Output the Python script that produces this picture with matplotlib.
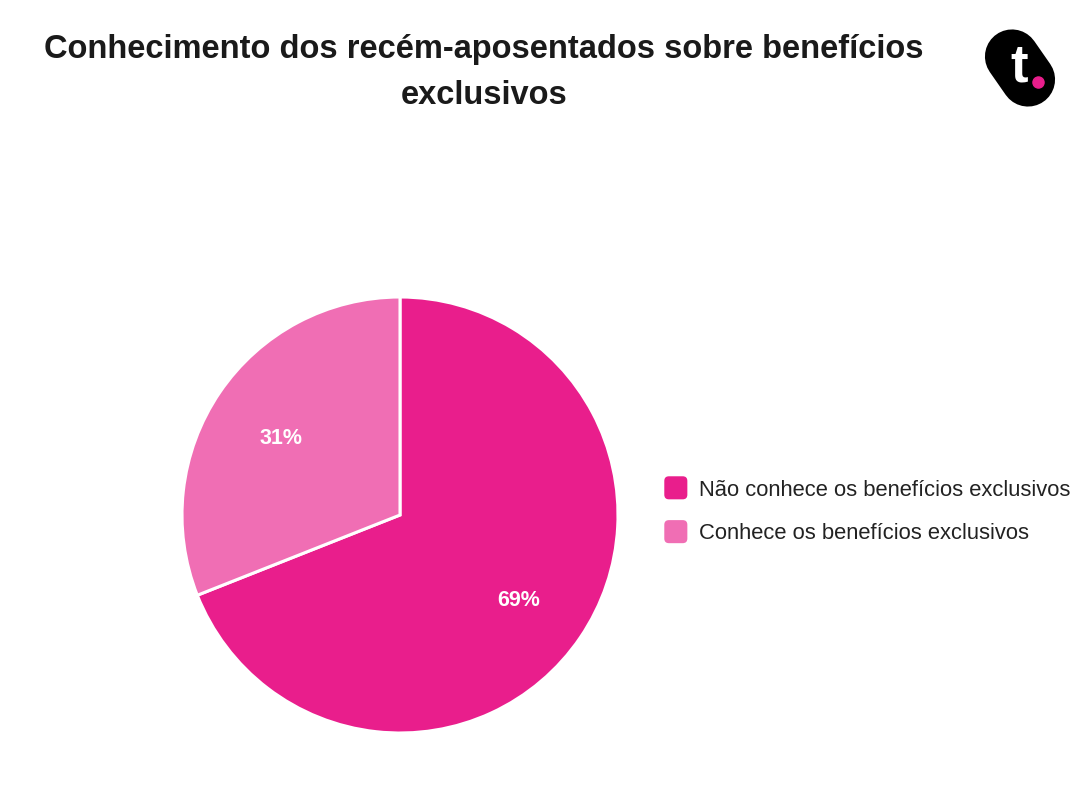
import matplotlib
matplotlib.use("Agg")
import matplotlib.pyplot as plt
from matplotlib.lines import Line2D
from matplotlib.patches import FancyBboxPatch, Patch
from matplotlib.legend_handler import HandlerPatch

plt.rcParams['font.family'] = ['Liberation Sans', 'DejaVu Sans']

title = "Conhecimento dos recém-aposentados sobre benefícios\nexclusivos"
categories = ["Não conhece os benefícios exclusivos", "Conhece os benefícios exclusivos"]
values = [69, 31]
colors = ["#E91E8C", "#F06EB4"]

W, H = 1080, 796
fig = plt.figure(figsize=(W / 100, H / 100), dpi=100)

cx, cy, r = 400, 515, 218
ax = fig.add_axes([(cx - r) / W, 1 - (cy + r) / H, 2 * r / W, 2 * r / H])
wedges, texts, autotexts = ax.pie(
    values, colors=colors, startangle=90, counterclock=False,
    autopct=lambda p: f"{p:.0f}%", pctdistance=0.66,
    wedgeprops=dict(edgecolor="white", linewidth=2.2),
    textprops=dict(color="white", fontsize=15.5, fontweight="bold"))
for t in autotexts:
    x, y = t.get_position()
    t.set_position((x, y - 4.5 / r))
ax.set_xlim(-1, 1)
ax.set_ylim(-1, 1)
ax.set_aspect("equal")
ax.axis("off")

fig.text(484 / W, 1 - 72.5 / H, title, ha="center", va="center",
         fontsize=23.5, fontweight="bold", color="#1a1a1a", linespacing=1.62)


class RoundHandler(HandlerPatch):
    def create_artists(self, legend, orig_handle, xdescent, ydescent, width, height, fontsize, trans):
        s = 16.6
        p = FancyBboxPatch((xdescent + (width - s) / 2, ydescent + (height - s) / 2 - 4.2), s, s,
                           boxstyle="round,pad=0,rounding_size=%f" % (s * 0.2),
                           facecolor=orig_handle.get_facecolor(), edgecolor="none", transform=trans)
        return [p]


handles = [Patch(facecolor=c) for c in colors]
leg = fig.legend(handles, categories, loc="center left",
                 bbox_to_anchor=(644 / W, 1 - 511 / H), frameon=False,
                 fontsize=15.8, handlelength=1.1, handleheight=1.1, handletextpad=0.5,
                 labelspacing=0.95, labelcolor="#222222",
                 handler_map={Patch: RoundHandler()})

# logo
x1, y1, x2, y2 = 1012, 56.5, 1028, 79.5
fig.add_artist(Line2D([x1 / W, x2 / W], [1 - y1 / H, 1 - y2 / H], transform=fig.transFigure,
                      color="black", linewidth=39, solid_capstyle="round", zorder=5))
fig.text(1019 / W, 1 - 68 / H, "t", ha="center", va="center", color="white",
         fontsize=38, fontweight="bold", zorder=6)
fig.add_artist(Line2D([1038 / W], [1 - 82 / H], transform=fig.transFigure, marker="o",
                      markersize=8, color="#E91E8C", linestyle="none", zorder=7))

fig.savefig("out.png", dpi=100)
